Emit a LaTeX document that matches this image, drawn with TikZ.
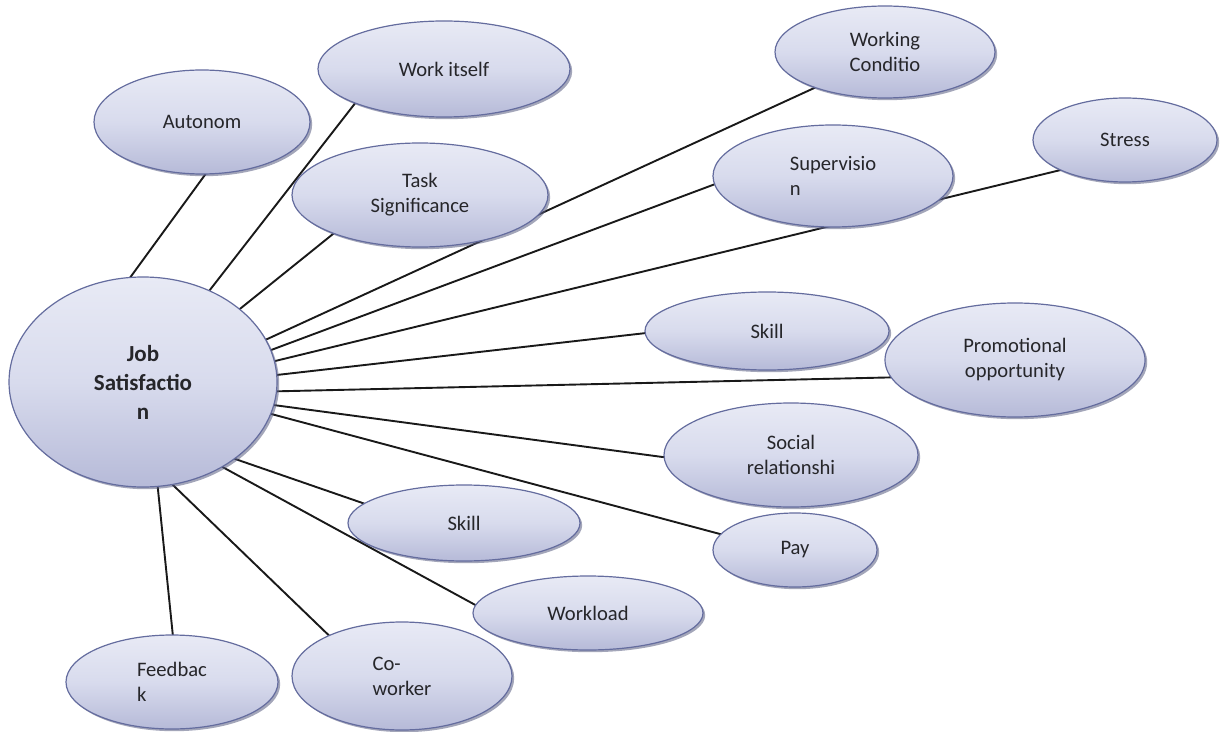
\documentclass[tikz,border=0pt]{standalone}
\usepackage{fontspec}
\setmainfont{Carlito}
\usetikzlibrary{shapes.geometric,shadows,backgrounds}
\definecolor{ovaltop}{RGB}{232,234,245}
\definecolor{ovalmid}{RGB}{216,219,237}
\definecolor{ovalbot}{RGB}{182,186,216}
\definecolor{ovalrim}{RGB}{100,108,158}
\definecolor{ovalshade}{RGB}{88,92,128}
\definecolor{ovaltext}{RGB}{38,38,42}

\begin{document}
\begin{tikzpicture}[x=0.5pt, y=-0.5pt,
    oval/.style 2 args={ellipse, draw=ovalrim, line width=0.6pt,
                 top color=ovaltop, bottom color=ovalbot, middle color=ovalmid,
                 minimum width=#1pt, minimum height=#2pt, inner sep=0pt, outer sep=0pt,
                 font=\fontsize{10.3}{12.5}\selectfont, text=ovaltext, align=center,
                 drop shadow={shadow xshift=1.1pt, shadow yshift=-1.1pt, opacity=0.55, fill=ovalshade}},
    link/.style={line width=0.95pt, black!90}
]
\useasboundingbox (0,0) rectangle (1224,732);

% centre
\node[oval={134}{105}, font=\fontsize{11.5}{14.5}\selectfont\bfseries] (js) at (143,382) {Job\\Satisfactio\\n};

% upper left
\node[oval={108}{52}]  (autonom)    at (202,122)  {Autonom};
\node[oval={126}{48}]  (workitself) at (444,69)   {Work itself};
\node[oval={128}{52}]  (task)       at (420,195)  {Task\\Significance};

% upper right
\node[oval={110}{46}]  (working)    at (885,52)   {Working\\Conditio};
\node[oval={120}{51}, align=left] (supervision) at (833,176) {Supervisio\\n};
\node[oval={92}{42}]   (stress)     at (1125,140) {Stress};

% right
\node[oval={122}{39}]  (skillright) at (767,331)  {Skill};
\node[oval={130}{57}]  (promo)      at (1015,360) {Promotional\\opportunity};
\node[oval={127}{52}]  (social)     at (791,455)  {Social\\relationshi};
\node[oval={82}{37}]   (pay)        at (795,550)  {Pay};

% lower
\node[oval={116}{38}]  (skilllow)   at (464,523)  {Skill};
\node[oval={115}{37}]  (workload)   at (588,613)  {Workload};
\node[oval={110}{54}, align=left] (coworker) at (402,676) {Co-\\worker};
\node[oval={106}{47}, align=left] (feedback) at (172,682) {Feedbac\\k};

\begin{scope}[on background layer]
\draw[link] (js.97)  -- (autonom.274);
\draw[link] (js.54)  -- (workitself.201);
\draw[link] (js.37)  -- (task.204);
\draw[link] (js.19)  -- (working.207);
\draw[link] (js.14)  -- (supervision.184);
\draw[link] (js.9)   -- (stress.205);
\draw[link] (js.3)   -- (skillright.181);
\draw[link] (js.-4)  -- (promo.188);
\draw[link] (js.-10) -- (social.181);
\draw[link] (js.-14) -- (pay.168);
\draw[link] (js.-40) -- (skilllow.169);
\draw[link] (js.-47) -- (workload.176);
\draw[link] (js.-74) -- (coworker.151);
\draw[link] (js.-82) -- (feedback.89);
\end{scope}
\end{tikzpicture}
\end{document}
